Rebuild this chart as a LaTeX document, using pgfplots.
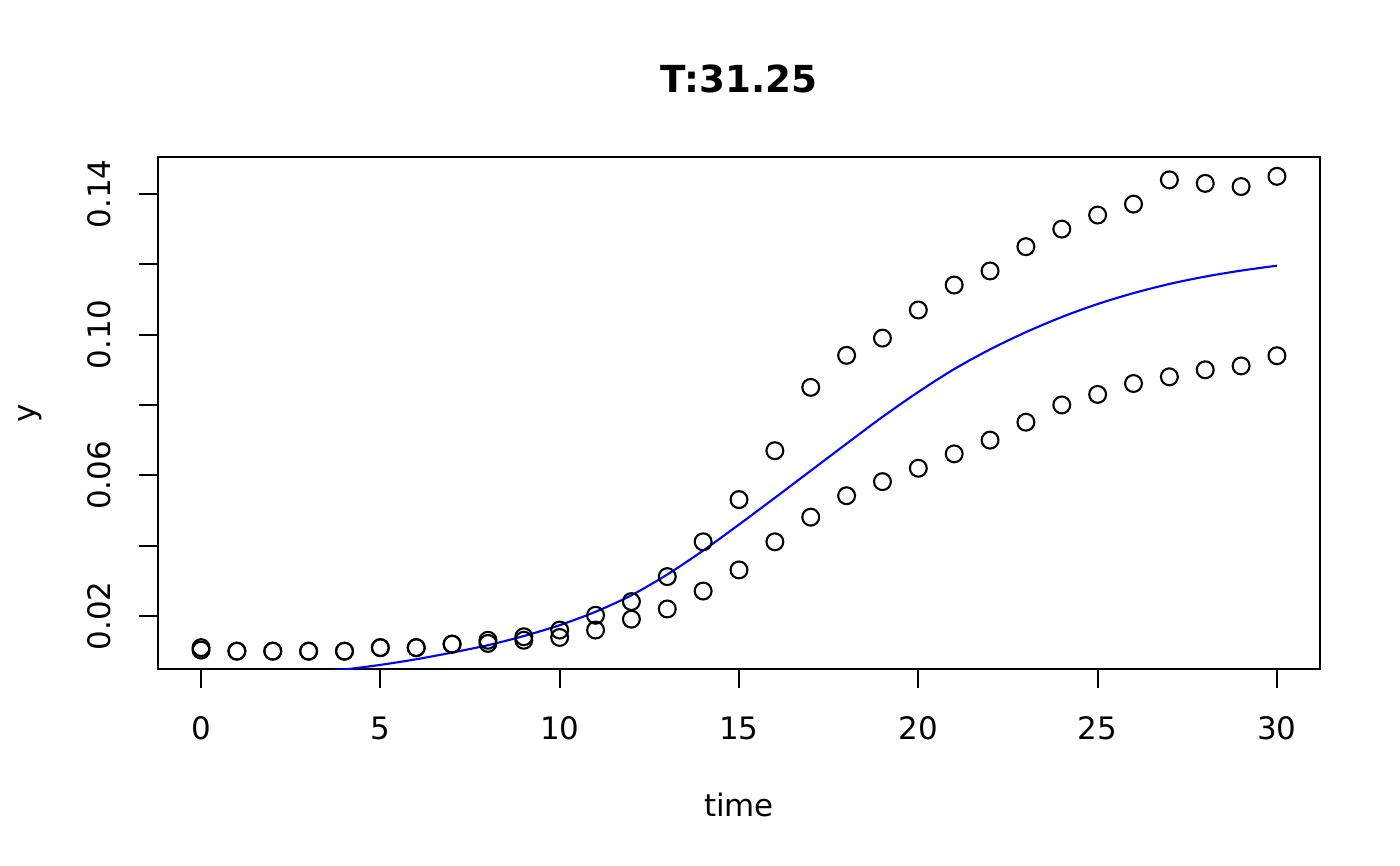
\documentclass[border=0pt]{standalone}
\usepackage{fontspec}
\setmainfont{DejaVu Sans}
\usepackage{pgfplots}
\pgfplotsset{compat=1.18}
\begin{document}
\begin{tikzpicture}
\path[use as bounding box] (0,0) rectangle (14cm,8.66cm);
\begin{axis}[
  at={(1.58cm,1.97cm)}, anchor=south west,
  scale only axis, width=11.62cm, height=5.12cm,
  xmin=-1.2, xmax=31.2, ymin=0.00493, ymax=0.1505,
  axis line style={black, line width=0.6pt},
  tick align=outside, major tick length=0.19cm,
  xtick pos=bottom, ytick pos=left,
  tick style={black, line width=0.6pt},
  xtick={0,5,...,30},
  ytick={0.02,0.04,0.06,0.08,0.10,0.12,0.14},
  yticklabels={0.02,{},0.06,{},0.10,{},0.14},
  /pgf/number format/assume math mode=true,
  ticklabel style={font=\fontsize{8.8pt}{10pt}\selectfont},
  xticklabel style={anchor=center, yshift=-0.4cm},
  yticklabel style={rotate=90, anchor=center, yshift=0.4cm},
  xlabel={time}, ylabel={y},
  label style={font=\fontsize{8.8pt}{10pt}\selectfont},
  xlabel style={at={(rel axis cs:0.5,-0.2656)}, anchor=center},
  ylabel style={at={(rel axis cs:-0.1102,0.5)}, anchor=center},
  title={T:31.25},
  title style={at={(rel axis cs:0.5,1.1113)}, anchor=center, font=\fontsize{10.6pt}{12pt}\selectfont\bfseries},
  clip=true,
]
\addplot[only marks, mark=o, mark size=2.4pt, mark options={black, line width=0.6pt}] coordinates {
(0,0.0103) (1,0.0100) (2,0.0100) (3,0.0100) (4,0.0100) (5,0.0110) (6,0.0110) (7,0.0120)
(8,0.0122) (9,0.0131) (10,0.0139) (11,0.0160) (12,0.0191) (13,0.0220) (14,0.0271) (15,0.0331)
(16,0.0411) (17,0.0481) (18,0.0542) (19,0.0582) (20,0.0620) (21,0.0661) (22,0.0700) (23,0.0751)
(24,0.0800) (25,0.0830) (26,0.0861) (27,0.0880) (28,0.0900) (29,0.0911) (30,0.0940)
};
\addplot[only marks, mark=o, mark size=2.4pt, mark options={black, line width=0.6pt}] coordinates {
(0,0.0110) (1,0.0100) (2,0.0100) (3,0.0100) (4,0.0100) (5,0.0110) (6,0.0110) (7,0.0120)
(8,0.0131) (9,0.0141) (10,0.0160) (11,0.0202) (12,0.0241) (13,0.0312) (14,0.0411) (15,0.0531)
(16,0.0670) (17,0.0850) (18,0.0941) (19,0.0990) (20,0.1070) (21,0.1141) (22,0.1181) (23,0.1250)
(24,0.1300) (25,0.1340) (26,0.1371) (27,0.1440) (28,0.1430) (29,0.1421) (30,0.1450)
};
\addplot[blue, line width=0.6pt, smooth, tension=0.5, no marks] coordinates {
(0,0.0020) (1,0.0025) (2,0.0031) (3,0.0039) (4,0.0048) (5,0.0061) (6,0.0077) (7,0.0096)
(8,0.0117) (9,0.0143) (10,0.0174) (11,0.0212) (12,0.0259) (13,0.0318) (14,0.0386) (15,0.0460)
(16,0.0536) (17,0.0613) (18,0.0690) (19,0.0766) (20,0.0837) (21,0.0902) (22,0.0958) (23,0.1007)
(24,0.1050) (25,0.1087) (26,0.1118) (27,0.1144) (28,0.1165) (29,0.1182) (30,0.1196)
};
\end{axis}
\end{tikzpicture}
\end{document}
